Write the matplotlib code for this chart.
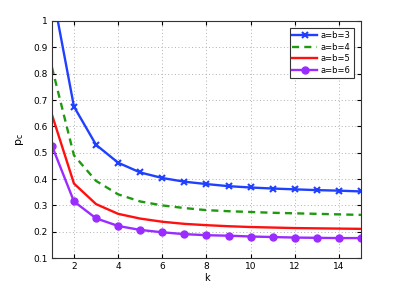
import matplotlib
matplotlib.use("Agg")
import matplotlib.pyplot as plt

k = list(range(1, 16))
pc_3 = [1.12, 0.675, 0.53, 0.462, 0.425, 0.404, 0.390, 0.381, 0.373, 0.368, 0.364, 0.361, 0.358, 0.356, 0.353]
pc_4 = [0.825, 0.49, 0.393, 0.342, 0.315, 0.300, 0.290, 0.282, 0.278, 0.275, 0.272, 0.270, 0.268, 0.266, 0.264]
pc_5 = [0.645, 0.383, 0.305, 0.268, 0.250, 0.238, 0.230, 0.225, 0.221, 0.218, 0.216, 0.214, 0.213, 0.212, 0.211]
pc_6 = [0.527, 0.315, 0.251, 0.222, 0.207, 0.198, 0.191, 0.187, 0.185, 0.182, 0.180, 0.178, 0.177, 0.176, 0.176]
labels = ["a=b=3", "a=b=4", "a=b=5", "a=b=6"]

fig = plt.figure(figsize=(3.99, 2.91), dpi=100)
ax = fig.add_axes([0.130, 0.113, 0.775, 0.815])

ax.plot(k, pc_3, color="#2040ff", lw=1.7, marker="x", ms=5, mew=1.5, label=labels[0])
ax.plot(k, pc_4, color="#1f9a10", lw=1.7, ls=(0, (3, 2.2)), label=labels[1])
ax.plot(k, pc_5, color="#ff1010", lw=1.7, label=labels[2])
ax.plot(k, pc_6, color="#9a2cff", lw=1.7, marker="o", ms=5, label=labels[3])

ax.set_xlim(1, 15)
ax.set_ylim(0.1, 1)
ax.set_xticks([2, 4, 6, 8, 10, 12, 14])
ax.set_yticks([0.1, 0.2, 0.3, 0.4, 0.5, 0.6, 0.7, 0.8, 0.9, 1])
ax.set_yticklabels(["0.1", "0.2", "0.3", "0.4", "0.5", "0.6", "0.7", "0.8", "0.9", "1"])
ax.grid(True, ls=(0, (1, 2.5)), color="#b0b0b0", lw=0.7)
ax.tick_params(direction="in", labelsize=6.5, length=3, top=True, right=True, pad=3)
for s in ax.spines.values():
    s.set_color("#333333")
    s.set_linewidth(0.8)

ax.set_xlabel("k", fontsize=7, labelpad=1)
ax.set_ylabel("$\\mathregular{p_c}$", fontsize=8, labelpad=5)

leg = ax.legend(loc="upper right", fontsize=6, fancybox=False, framealpha=1,
                edgecolor="#333333", handlelength=3.0, borderpad=0.35,
                labelspacing=0.3, handletextpad=0.4, borderaxespad=0.9)
leg.get_frame().set_linewidth(0.8)

fig.savefig("out.png", dpi=100)
